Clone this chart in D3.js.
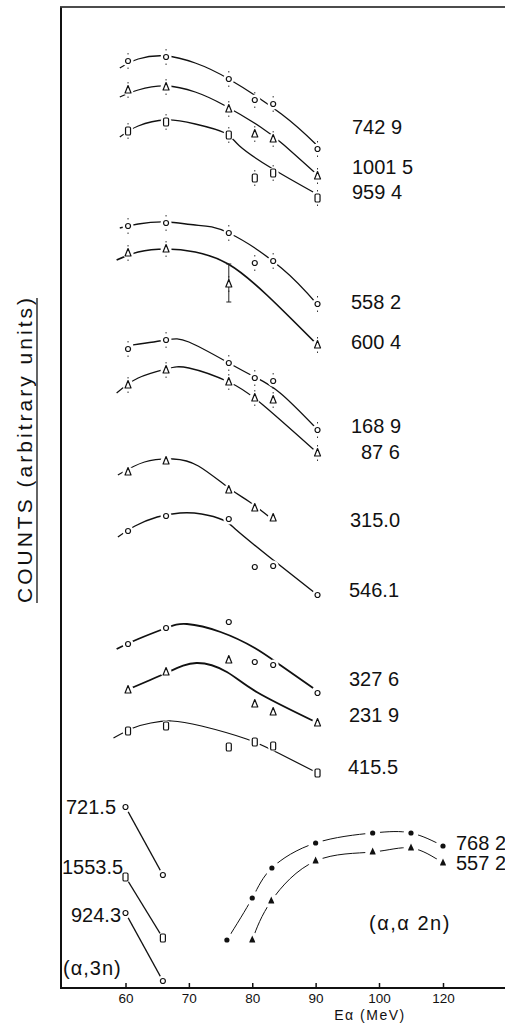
<!DOCTYPE html>
<html><head><meta charset="utf-8">
<script src="https://cdn.jsdelivr.net/npm/d3@7"></script>
<style>html,body{margin:0;padding:0;background:#fff}svg{display:block}</style>
</head><body>
<svg id="c" width="505" height="1023"></svg>
<script>
// ---------------- DATA ----------------
const energies = [60.4, 66.4, 76.3, 80.4, 83.3, 90.3];       // Eα (MeV) of the six-point series
const tickValues = [60, 70, 80, 90, 100, 120];
const tickLabels = ["60", "70", "80", "90", "100", "120"];

// counts (arbitrary units) of each γ line
const s7429  = [927, 931, 909, 888, 884, 839];
const s10015 = [898, 901, 879, 854, 849, 812];
const s9594  = [857, 866, 853, 810, 815, 790];
const s5582  = [762, 765, 755, 725, 727, 684];
const s6004  = [735, 739, 704, null, null, 643];
const s1689  = [639, 648, 625, 610, 607, 558];
const s876   = [603, 618, 606, 590, 588, 535];
const s3150  = [516, 527, 498, 480, 470, null];
const s5461  = [457, 472, 469, 421, 422, 393];
const s3276  = [344, 360, 366, 326, 323, 295];
const s2319  = [298, 316, 328, 284, 276, 265];
const s4155  = [257, 262, 241, 246, 242, 215];
const smallErr = 8;                      // typical error of the upper series
const bigErr6004 = {E: 76.3, lo: 686, hi: 724};

// fitted curves (Eα, counts)
const fit7429  = [[59.1,920],[62,929],[66.4,932],[71,925],[76.3,909],[84.6,874],[90,844]];
const fit10015 = [[59.1,891],[62,898],[66.4,902],[71,896],[75.5,883],[81.3,861],[85,843],[90.3,813]];
const fit9594  = [[59.1,851],[62,862],[66.4,868],[71,864],[75.7,855],[78,842],[83,820],[89.6,796]];
const fit5582  = [[59.1,760],[62,764],[66.4,766],[71,763],[76.3,755],[84.6,720],[90.2,684]];
const fit6004  = [[58.6,728],[62,736],[66.4,739],[71,736],[76.2,724],[82.3,693],[90.3,643]];
const fit1689  = [[61.2,643],[66.4,648],[70,646],[76.3,625],[80.4,611],[84.4,595],[89.9,561]];
const fit876   = [[58.6,595],[62,610],[66.4,619],[70,620],[76.3,606],[81.7,583],[90.3,535]];
const fit3150  = [[58.8,513],[63,526],[67.5,529],[71.5,522],[76.3,500],[79.6,486],[83.3,468]];
const fit5461  = [[58.8,451],[61.5,462],[65,471],[68.6,475],[72,474],[75.4,468],[77.5,458],[82.5,432],[90.3,393]];
const fit3276  = [[58.6,339],[62,349],[66.4,360],[69.7,364],[75,356],[80.4,340],[84.4,323],[89.6,300]];
const fit2319  = [[60.2,298],[66.4,315],[71.2,325],[76,316],[80.7,296],[90,266]];
const fit4155  = [[58.1,250],[61.2,260],[64,265],[67.3,267],[72,262],[79.1,249],[84.1,235],[90.3,215]];

// (α,3n)
const energies3n = [60, 65.9];
const s7215  = [181, 113];
const s15535 = [111, 50];
const s9243  = [75, 7];

// (α,α2n)
const energies7682 = [76, 80, 83.1, 90, 99, 110, 120];
const s7682 = [48, 90, 120, 145, 155, 155, 142];
const energies5572 = [80, 83, 90, 99, 110, 120];
const s5572 = [48, 87, 127, 136, 140, 125];

// ---------------- CHART ----------------
const svg = d3.select("#c");
const x = d3.scaleLinear().domain([60, 100, 120]).range([125.5, 379, 443]);
const y = d3.scaleLinear().domain([0, 981]).range([988, 7]);
const FONT = "'Liberation Sans', Arial, sans-serif";

function pts(E, V){ return E.map((e,i)=>({E:e, v:V[i]})).filter(d=>d.v!=null); }

const series = [
  {name:"742 9",  E:energies, v:s7429,  fit:fit7429,  shape:"circle",   err:true, w:1.3},
  {name:"1001 5", E:energies, v:s10015, fit:fit10015, shape:"triangle", err:true, w:1.3},
  {name:"959 4",  E:energies, v:s9594,  fit:fit9594,  shape:"square",   err:true, w:1.3},
  {name:"558 2",  E:energies, v:s5582,  fit:fit5582,  shape:"circle",   err:true, w:1.3},
  {name:"600 4",  E:energies, v:s6004,  fit:fit6004,  shape:"triangle", err:true, w:1.7},
  {name:"168 9",  E:energies, v:s1689,  fit:fit1689,  shape:"circle",   err:true, w:1.3},
  {name:"87 6",   E:energies, v:s876,   fit:fit876,   shape:"triangle", err:true, w:1.3},
  {name:"315.0",  E:energies, v:s3150,  fit:fit3150,  shape:"triangle", err:false, w:1.3},
  {name:"546.1",  E:energies, v:s5461,  fit:fit5461,  shape:"circle",   err:false, w:1.4},
  {name:"327 6",  E:energies, v:s3276,  fit:fit3276,  shape:"circle",   err:false, w:1.8},
  {name:"231 9",  E:energies, v:s2319,  fit:fit2319,  shape:"triangle", err:false, w:1.8},
  {name:"415.5",  E:energies, v:s4155,  fit:fit4155,  shape:"square",   err:false, w:1.2},
  {name:"721.5",  E:energies3n, v:s7215,  fit:null, shape:"circle", err:false, w:1.4, straight:true},
  {name:"1553.5", E:energies3n, v:s15535, fit:null, shape:"square", err:false, w:1.4, straight:true},
  {name:"924.3",  E:energies3n, v:s9243,  fit:null, shape:"circle", err:false, w:1.4, straight:true},
  {name:"768 2",  E:energies7682, v:s7682, fit:null, shape:"dot",  err:false, w:1.0, halo:7.5},
  {name:"557 2",  E:energies5572, v:s5572, fit:null, shape:"fulltri", err:false, w:1.0, halo:7.5}
];

const gCurves = svg.append("g"), gHalo = svg.append("g"), gErr = svg.append("g"), gMark = svg.append("g");
const lineSmooth = d3.line().x(d=>x(d[0])).y(d=>y(d[1])).curve(d3.curveNatural);
const lineStraight = d3.line().x(d=>x(d[0])).y(d=>y(d[1]));

series.forEach(s=>{
  const p = pts(s.E, s.v);
  let path;
  if (s.fit) path = lineSmooth(s.fit);
  else if (s.straight) path = lineStraight(p.map(d=>[d.E,d.v]));
  else path = lineSmooth(p.map(d=>[d.E,d.v]));
  gCurves.append("path").attr("d", path).attr("fill","none").attr("stroke","#111").attr("stroke-width", s.w);

  p.forEach(d=>{
    const cx = x(d.E), cy = y(d.v);
    gHalo.append("circle").attr("cx",cx).attr("cy",cy).attr("r", s.halo || 5.5).attr("fill","#fff");
    if (s.err){
      const L = Math.abs(y(d.v+smallErr) - y(d.v-smallErr));
      gErr.append("line").attr("x1",cx).attr("x2",cx).attr("y1",y(d.v+smallErr)).attr("y2",y(d.v-smallErr))
        .attr("stroke","#333").attr("stroke-width",1).attr("stroke-dasharray",`1.5,${L-3},1.5`);
    }
    const g = gMark.append("g").attr("transform",`translate(${cx},${cy})`);
    if (s.shape==="circle") g.append("circle").attr("r",2.5).attr("fill","#fff").attr("stroke","#111").attr("stroke-width",1.2);
    else if (s.shape==="triangle") g.append("path").attr("d","M0,-4.5L3,3L-3,3Z").attr("fill","#fff").attr("stroke","#111").attr("stroke-width",1.2).attr("stroke-linejoin","round");
    else if (s.shape==="square") g.append("rect").attr("x",-2.5).attr("y",-4).attr("width",5).attr("height",8).attr("rx",1.3).attr("fill","#fff").attr("stroke","#111").attr("stroke-width",1.2);
    else if (s.shape==="dot") g.append("circle").attr("r",2.6).attr("fill","#111");
    else if (s.shape==="fulltri") g.append("path").attr("d","M0,-4.5C1,-2 3,1 3,2.5L-3,2.5C-3,1 -1,-2 0,-4.5Z").attr("fill","#111");
  });
});

// big error bar on the 600.4 series
{
  const cx = x(bigErr6004.E);
  gErr.append("line").attr("x1",cx).attr("x2",cx).attr("y1",y(bigErr6004.hi)).attr("y2",y(bigErr6004.lo)).attr("stroke","#222").attr("stroke-width",1);
  [bigErr6004.hi, bigErr6004.lo].forEach(v=>gErr.append("line").attr("x1",cx-2.5).attr("x2",cx+2.5).attr("y1",y(v)).attr("y2",y(v)).attr("stroke","#222").attr("stroke-width",1));
}

// frame / axes
svg.append("line").attr("x1",60).attr("x2",505).attr("y1",7).attr("y2",7).attr("stroke","#111").attr("stroke-width",1.6);
svg.append("line").attr("x1",60).attr("x2",505).attr("y1",988).attr("y2",988).attr("stroke","#111").attr("stroke-width",2);
const yAxis = svg.append("g").attr("transform","translate(60.5,0)").call(d3.axisLeft(y).ticks(0).tickSizeOuter(0));
yAxis.select(".domain").attr("stroke","#111").attr("stroke-width",2);

const xAxis = svg.append("g").attr("transform","translate(0,988)")
  .call(d3.axisBottom(x).tickValues(tickValues).tickFormat((d,i)=>tickLabels[i]).tickSizeInner(-5).tickSizeOuter(0).tickPadding(5));
xAxis.select(".domain").remove();
xAxis.selectAll(".tick line").attr("stroke","#111").attr("stroke-width",1.5);
xAxis.selectAll(".tick text").attr("font-family",FONT).attr("font-size",13.5).attr("fill","#111");

svg.append("text").attr("x",370).attr("y",1020).attr("text-anchor","middle")
  .attr("font-family",FONT).attr("font-size",14).attr("letter-spacing",1.5).attr("fill","#111").text("Eα (MeV)");

// y label
svg.append("text").attr("transform","translate(32,603) rotate(-90)").attr("text-anchor","start")
  .attr("font-family",FONT).attr("font-size",21).attr("fill","#111")
  .attr("textLength",305).attr("lengthAdjust","spacing").text("COUNTS (arbitrary units)");
svg.append("line").attr("x1",37).attr("x2",37).attr("y1",298).attr("y2",603).attr("stroke","#111").attr("stroke-width",1.3);

// series labels (layout)
const labelPos = {
  "742 9":[352,127], "1001 5":[352,167], "959 4":[352,192],
  "558 2":[351,302], "600 4":[351,342], "168 9":[351,426], "87 6":[361,452],
  "315.0":[350,520], "546.1":[349,590], "327 6":[349,679], "231 9":[349,715], "415.5":[348,767],
  "721.5":[66,807], "1553.5":[62,867], "924.3":[71,915], "768 2":[456,843], "557 2":[456,863]
};
Object.entries(labelPos).forEach(([t,p])=>{
  svg.append("text").attr("x",p[0]).attr("y",p[1]).attr("dy","0.36em")
    .attr("font-family",FONT).attr("font-size",20).attr("fill","#111").text(t);
});
svg.append("text").attr("x",63).attr("y",968).attr("dy","0.36em").attr("font-family",FONT).attr("font-size",20).attr("letter-spacing",1).attr("fill","#111").text("(α,3n)");
svg.append("text").attr("x",369).attr("y",923).attr("dy","0.36em").attr("font-family",FONT).attr("font-size",20).attr("letter-spacing",1.5).attr("fill","#111").text("(α,α 2n)");
</script>
</body></html>
